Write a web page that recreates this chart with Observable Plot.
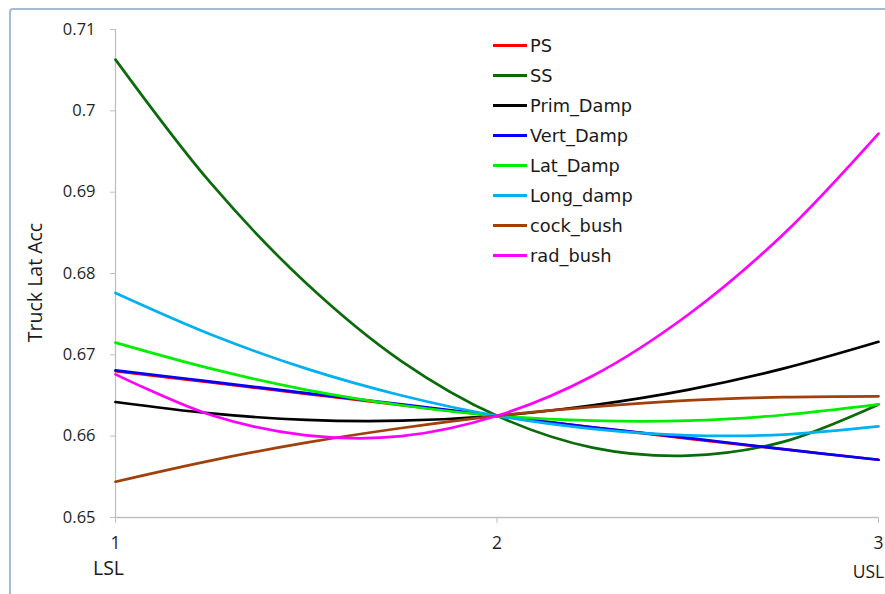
<!DOCTYPE html>
<html>
<head>
<meta charset="utf-8">
<script src="https://cdn.jsdelivr.net/npm/d3@7"></script>
<script src="https://cdn.jsdelivr.net/npm/@observablehq/plot@0.6"></script>
<style>
  html, body { margin: 0; padding: 0; background: #fff; overflow: hidden; }
  #wrap { position: relative; width: 885px; height: 594px; }
  #border { position: absolute; left: 9px; top: 8px; width: 900px; height: 620px;
            border: 2px solid #a7bad4; border-radius: 4px; box-sizing: border-box; pointer-events: none; }
  #legend { position: absolute; left: 493px; top: 31px; font-family: "DejaVu Sans", sans-serif;
            font-size: 17.8px; color: #1a1a1a; }
  .row { display: flex; align-items: center; height: 29.9px; }
  .sw { width: 34px; height: 0; border-top: 3px solid; margin-right: 3px; }
</style>
</head>
<body>
<div id="wrap"><div id="chart"></div><div id="border"></div><div id="legend"></div></div>
<script>
// ---- data ----
const xs = [1, 1.25, 1.5, 1.75, 2, 2.25, 2.5, 2.75, 3];
const seriesNames = ["PS", "SS", "Prim_Damp", "Vert_Damp", "Lat_Damp", "Long_damp", "cock_bush", "rad_bush"];
const seriesColors = ["#ff0000", "#0b6b0b", "#000000", "#0000ff", "#00ee00", "#00b0f0", "#a0400a", "#ff00ff"];
const PS        = [0.6680, 0.6666, 0.6652, 0.6638, 0.6625, 0.6611, 0.6597, 0.6584, 0.6571];
const SS        = [0.7063, 0.6911, 0.6788, 0.6692, 0.6625, 0.6586, 0.6576, 0.6593, 0.6639];
const Prim_Damp = [0.6642, 0.6628, 0.6620, 0.6619, 0.6625, 0.6638, 0.6657, 0.6683, 0.6716];
const Vert_Damp = [0.6681, 0.6667, 0.6653, 0.6639, 0.6625, 0.6611, 0.6598, 0.6584, 0.6571];
const Lat_Damp  = [0.6715, 0.6683, 0.6657, 0.6638, 0.6625, 0.6619, 0.6619, 0.6626, 0.6639];
const Long_damp = [0.6776, 0.6725, 0.6683, 0.6650, 0.6625, 0.6609, 0.6601, 0.6602, 0.6612];
const cock_bush = [0.6544, 0.6570, 0.6592, 0.6610, 0.6625, 0.6636, 0.6644, 0.6648, 0.6649];
const rad_bush  = [0.6676, 0.6626, 0.6601, 0.6600, 0.6625, 0.6674, 0.6749, 0.6848, 0.6972];
const xTicks = [1, 2, 3];
const yTicks = [0.65, 0.66, 0.67, 0.68, 0.69, 0.70, 0.71];
const specLabels = ["LSL", "USL"];
const specX = [1, 3];
const yLabel = "Truck Lat Acc";

const valuesBySeries = [PS, SS, Prim_Damp, Vert_Damp, Lat_Damp, Long_damp, cock_bush, rad_bush];
const rows = [];
seriesNames.forEach((s, k) => xs.forEach((x, i) => rows.push({series: s, x, y: valuesBySeries[k][i]})));

const chart = Plot.plot({
  width: 885,
  height: 594,
  marginLeft: 115,
  marginRight: 7,
  marginTop: 29,
  marginBottom: 77,
  style: {fontFamily: "'Open Sans', sans-serif", fontSize: "16.5px", color: "#1f1f1f", background: "transparent"},
  x: {domain: [xTicks[0], xTicks[xTicks.length - 1]]},
  y: {domain: [yTicks[0], yTicks[yTicks.length - 1]]},
  color: {domain: seriesNames, range: seriesColors},
  marks: [
    Plot.ruleX([xTicks[0]], {stroke: "#c0c0c0", strokeWidth: 1.3}),
    Plot.ruleY([yTicks[0]], {stroke: "#c0c0c0", strokeWidth: 1.3}),
    Plot.axisY({ticks: yTicks, tickSize: 5, tickPadding: 15, tickFormat: d3.format("~g"),
                stroke: "#c0c0c0", fontSize: 16.5, label: null}),
    Plot.axisX({ticks: xTicks, tickSize: 6, tickPadding: 13, tickFormat: d3.format("d"),
                stroke: "#c0c0c0", fontSize: 17.5, label: null}),
    Plot.text([yLabel], {frameAnchor: "left", textAnchor: "middle", rotate: -90, dx: -80, dy: 9,
                         fontSize: 19.5, fill: "#1a1a1a"}),
    Plot.text([specLabels[0]], {x: [specX[0]], text: d => d, frameAnchor: "bottom", dy: 57, dx: -7, fontSize: 19.5, fill: "#1a1a1a"}),
    Plot.text([specLabels[1]], {x: [specX[1]], text: d => d, frameAnchor: "bottom", dy: 60, dx: -10, fontSize: 17.5, fill: "#1a1a1a"}),
    Plot.line(rows, {x: "x", y: "y", z: "series", stroke: "series", curve: "catmull-rom", strokeWidth: 2.7})
  ]
});
document.getElementById("chart").appendChild(chart);

const legend = document.getElementById("legend");
seriesNames.forEach((s, i) => {
  const r = document.createElement("div");
  r.className = "row";
  const sw = document.createElement("div");
  sw.className = "sw";
  sw.style.borderTopColor = seriesColors[i];
  const t = document.createElement("span");
  t.textContent = s;
  r.appendChild(sw); r.appendChild(t);
  legend.appendChild(r);
});
</script>
</body>
</html>
